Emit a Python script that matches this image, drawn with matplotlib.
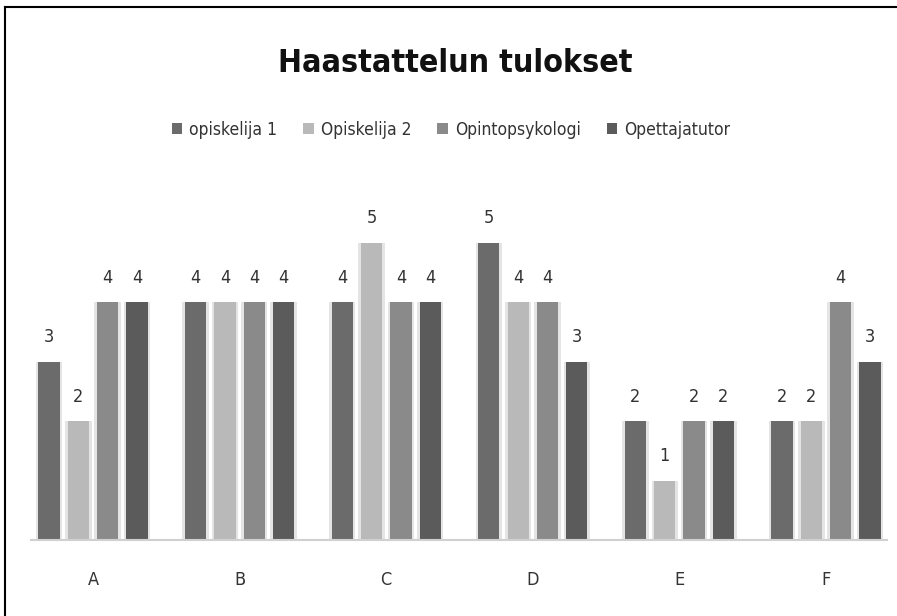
import numpy as np
import matplotlib
matplotlib.use("Agg")
import matplotlib.pyplot as plt
from matplotlib.lines import Line2D

plt.rcParams['font.family'] = ['DejaVu Sans']
plt.rcParams['font.stretch'] = 'condensed'

categories = ['A', 'B', 'C', 'D', 'E', 'F']
series = ['opiskelija 1', 'Opiskelija 2', 'Opintopsykologi', 'Opettajatutor']
values = [
    [3, 4, 4, 5, 2, 2],   # opiskelija 1
    [2, 4, 5, 4, 1, 2],   # Opiskelija 2
    [4, 4, 4, 4, 2, 4],   # Opintopsykologi
    [4, 4, 4, 3, 2, 3],   # Opettajatutor
]
colors = ['#6b6b6b', '#b9b9b9', '#8a8a8a', '#5b5b5b']

W, H = 897, 616
fig = plt.figure(figsize=(W / 100, H / 100), dpi=100)
ax = fig.add_axes([31 / W, (H - 540) / H, 856 / W, 357 / H])

x = np.arange(len(categories))
width = 0.145
step = 0.2
for i, (name, vals) in enumerate(zip(series, values)):
    pos = x + (i - 1.5) * step
    # soft glow behind bars
    ax.bar(pos, vals, width + 0.035, color='#e4e4e4', zorder=1)
    bars = ax.bar(pos, vals, width, color=colors[i], label=name, zorder=2)
    for b, v in zip(bars, vals):
        ax.annotate(str(v), (b.get_x() + b.get_width() / 2, v),
                    xytext=(0, 11), textcoords='offset points',
                    ha='center', va='bottom', fontsize=13, color='#333333')

ax.set_xlim(-0.423, 5.416)
ax.set_ylim(0, 6)
ax.set_yticks([])
ax.set_xticks(x)
ax.set_xticklabels(categories, fontsize=13, color='#333333')
ax.tick_params(axis='x', length=0, pad=22)
for s in ['top', 'right', 'left']:
    ax.spines[s].set_visible(False)
ax.spines['bottom'].set_color('#d0d0d0')
ax.spines['bottom'].set_linewidth(1.5)

fig.text(455 / W, 1 - 63 / H, 'Haastattelun tulokset', ha='center', va='center',
         fontsize=23, fontweight='bold', color='#111111')

leg = fig.legend(loc='center', bbox_to_anchor=(451 / W, 1 - 130 / H), ncol=4,
                 frameon=False, fontsize=12.5, handlelength=0.6, handleheight=0.6,
                 handletextpad=0.4, columnspacing=1.5)
for t in leg.get_texts():
    t.set_color('#333333')

# frame line at top and left
fig.add_artist(Line2D([5 / W, 5 / W], [0, 1 - 7 / H], color='black', lw=1.5))
fig.add_artist(Line2D([5 / W, 1], [1 - 7 / H, 1 - 7 / H], color='black', lw=1.5))

fig.savefig('out.png', dpi=100)
